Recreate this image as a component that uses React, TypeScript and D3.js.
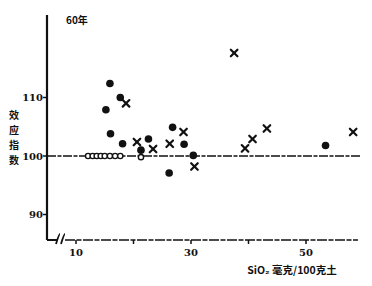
import React from "react";
import * as d3 from "d3";

const title = "60年";
const yLabel = ["效", "应", "指", "数"];
const xLabel = "SiO₂ 毫克/100克土";
const xTicks = [10, 20, 30, 40, 50];
const xTickLabels = [10, 30, 50];
const yTicks = [90, 100, 110];

const openX = [12.1, 12.9, 13.6, 14.3, 15.0, 15.9, 16.8, 17.7, 21.3];
const openY = [100, 100, 100, 100, 100, 100, 100, 100, 99.8];

const filledX = [15.9, 17.7, 15.2, 16.0, 18.1, 22.6, 21.3, 26.8, 28.8, 30.4, 26.2, 53.4];
const filledY = [112.4, 110.0, 107.9, 103.8, 102.1, 102.9, 101.0, 104.9, 102.0, 100.1, 97.1, 101.8];

const crossX = [18.7, 20.6, 23.4, 26.3, 28.7, 30.6, 37.5, 39.4, 40.7, 43.2, 58.2];
const crossY = [109.0, 102.4, 101.2, 102.1, 104.1, 98.2, 117.6, 101.3, 102.9, 104.7, 104.1];

const W = 372;
const H = 286;

export default function App() {
  const x = d3.scaleLinear().domain([10, 50]).range([76, 306]);
  const y = d3.scaleLinear().domain([90, 110]).range([214.5, 97.5]);
  const axisX = 47;
  const axisTop = 15;
  const axisBottom = 240;
  const axisRight = 358;
  const ink = "#111";
  const font = "'DejaVu Serif', 'Noto Sans CJK SC', serif";
  const cjk = "'Noto Sans CJK SC', sans-serif";

  const cross = (cx: number, cy: number, i: number) => {
    const s = 3.3;
    return (
      <g key={"c" + i} stroke={ink} strokeWidth={2.2} strokeLinecap="round">
        <line x1={cx - s} y1={cy - s} x2={cx + s} y2={cy + s} />
        <line x1={cx - s} y1={cy + s} x2={cx + s} y2={cy - s} />
      </g>
    );
  };

  return (
    <svg
      width={W}
      height={H}
      style={{ position: "absolute", left: 0, top: 0, background: "#fff" }}
    >
      <rect x={0} y={0} width={W} height={H} fill="#fff" />
      {/* reference line at 100 */}
      <line
        x1={axisX}
        x2={axisRight + 2}
        y1={y(100)}
        y2={y(100)}
        stroke={ink}
        strokeWidth={1.6}
        strokeDasharray="9,1.5,4,1.5"
      />
      {/* y axis */}
      <line x1={axisX} x2={axisX} y1={axisTop} y2={axisBottom} stroke={ink} strokeWidth={2.2} />
      {yTicks.map((t) => (
        <g key={"yt" + t}>
          <line x1={axisX - 4} x2={axisX} y1={y(t)} y2={y(t)} stroke={ink} strokeWidth={1.5} />
          <text
            x={axisX - 4}
            y={y(t)}
            dy="0.35em"
            textAnchor="end"
            fontFamily={font}
            fontWeight="bold"
            fontSize={10}
            fill={ink}
          >
            {t}
          </text>
        </g>
      ))}
      {/* x axis with break */}
      <path
        d={`M${axisX},${axisBottom} L${axisX + 10},${axisBottom}`}
        stroke={ink}
        strokeWidth={2}
        fill="none"
      />
      <path
        d={`M${axisX + 9},${axisBottom + 4} Q${axisX + 12},${axisBottom - 6} ${axisX + 13},${axisBottom - 6}
            M${axisX + 14},${axisBottom + 4} Q${axisX + 17},${axisBottom - 6} ${axisX + 18},${axisBottom - 6}`}
        stroke={ink}
        strokeWidth={1.8}
        fill="none"
      />
      <line
        x1={axisX + 18}
        x2={axisRight}
        y1={axisBottom}
        y2={axisBottom}
        stroke={ink}
        strokeWidth={1.6}
        strokeDasharray="10,1.5,5,1.5"
      />
      {xTicks.map((t) => (
        <line
          key={"xt" + t}
          x1={x(t)}
          x2={x(t)}
          y1={axisBottom}
          y2={axisBottom + 4}
          stroke={ink}
          strokeWidth={1.5}
        />
      ))}
      {xTickLabels.map((t) => (
        <text
          key={"xl" + t}
          x={x(t)}
          y={axisBottom + 16}
          textAnchor="middle"
          fontFamily={font}
          fontWeight="bold"
          fontSize={10}
          fill={ink}
        >
          {t}
        </text>
      ))}
      {/* labels */}
      <text x={66} y={24} fontFamily={cjk} fontWeight="bold" fontSize={10} fill={ink}>
        {title}
      </text>
      {yLabel.map((ch, i) => (
        <text
          key={"yl" + i}
          x={14}
          y={119 + i * 15}
          textAnchor="middle"
          fontFamily={cjk}
          fontWeight="bold"
          fontSize={10}
          fill={ink}
        >
          {ch}
        </text>
      ))}
      <text
        x={292}
        y={274}
        textAnchor="middle"
        fontFamily={cjk}
        fontWeight="bold"
        fontSize={10.5}
        fill={ink}
      >
        {xLabel}
      </text>
      {/* data */}
      {filledX.map((v, i) => (
        <circle key={"f" + i} cx={x(v)} cy={y(filledY[i])} r={3.8} fill={ink} />
      ))}
      {crossX.map((v, i) => cross(x(v), y(crossY[i]), i))}
      {openX.map((v, i) => (
        <circle
          key={"o" + i}
          cx={x(v)}
          cy={y(openY[i])}
          r={2.6}
          fill="#fff"
          stroke={ink}
          strokeWidth={1.4}
        />
      ))}
    </svg>
  );
}
